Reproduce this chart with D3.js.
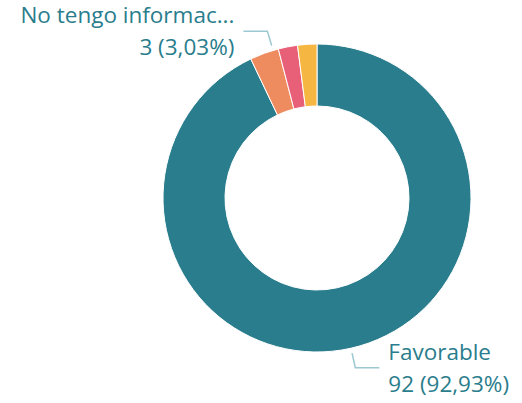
<!DOCTYPE html>
<html lang="es">
<head>
    <meta charset="UTF-8">
    <title>Donut</title>
    <script src="https://cdn.jsdelivr.net/npm/d3@7"></script>
    <style>
        body { margin: 0; background: #fff; }
        text { font-family: "Open Sans", "Noto Sans", sans-serif; }
    </style>
</head>
<body>
    <script>
        // data
        const categories = ["Favorable", "No tengo información", "Desfavorable", "Otro"];
        const values = [92, 3, 2, 2];
        const colors = ["#2a7d8c", "#ef8c5f", "#e85f78", "#f5b642"];
        const labelled = ["Favorable", "No tengo información"];
        const shortNames = { "No tengo información": "No tengo informac..." };

        const width = 522, height = 403;
        const cx = 317, cy = 198;
        const R = 154, r = 92;

        const svg = d3.select("body").append("svg")
            .attr("width", width)
            .attr("height", height);

        const g = svg.append("g").attr("transform", `translate(${cx},${cy})`);

        const data = categories.map((c, i) => ({ name: c, value: values[i], color: colors[i] }));
        const total = d3.sum(values);

        const pie = d3.pie().value(d => d.value).sort(null);
        const arc = d3.arc().innerRadius(r).outerRadius(R);
        const arcs = pie(data);

        g.selectAll("path.slice")
            .data(arcs)
            .enter().append("path")
            .attr("class", "slice")
            .attr("d", arc)
            .attr("fill", d => d.data.color)
            .attr("stroke", "#fff")
            .attr("stroke-width", 1);

        const fmt = v => d3.format(".2f")(v).replace(".", ",");
        const polar = (a, rad) => [rad * Math.sin(a), -rad * Math.cos(a)];

        arcs.filter(d => labelled.includes(d.data.name)).forEach(d => {
            let mid = (d.startAngle + d.endAngle) / 2;
            if (mid > Math.PI) mid += 0.06; // nudge left-side label slightly
            const p1 = polar(mid, R + 5);
            const p2 = polar(mid, R + 20);
            const right = Math.sin(mid) > 0;
            const p3 = [p2[0] + (right ? 24 : -24), p2[1]];

            g.append("polyline")
                .attr("points", [p1, p2, p3].map(p => p.join(",")).join(" "))
                .attr("fill", "none")
                .attr("stroke", "#9cc8d1")
                .attr("stroke-width", 1.5);

            const tx = p3[0] + (right ? 9 : -9);
            const name = shortNames[d.data.name] || d.data.name;
            const pct = fmt(d.data.value / total * 100);
            const t = g.append("text")
                .attr("x", tx)
                .attr("y", p3[1] - 8)
                .attr("text-anchor", right ? "start" : "end")
                .attr("fill", "#2a7d8c")
                .attr("font-size", 22.5);
            t.append("tspan").attr("x", tx).attr("dy", 0).text(name);
            t.append("tspan").attr("x", tx).attr("dy", 32).text(`${d.data.value} (${pct}%)`);
        });
    </script>
</body>
</html>
